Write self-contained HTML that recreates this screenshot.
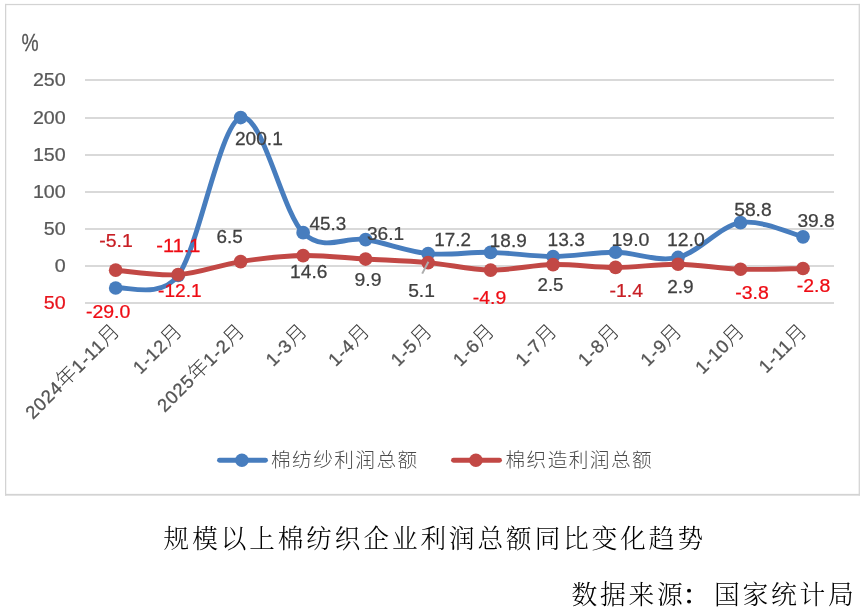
<!DOCTYPE html>
<html lang="zh-CN"><head><meta charset="utf-8"><title>规模以上棉纺织企业利润总额同比变化趋势</title>
<style>
html,body{margin:0;padding:0;background:#fff;}
body{width:865px;height:615px;overflow:hidden;position:relative;}
svg{position:absolute;left:0;top:0;display:block;}
text{white-space:pre;}
.num,.cjk{font-family:"Liberation Sans","Noto Sans CJK SC",sans-serif;}
.fs{font-family:"Liberation Serif","Noto Serif CJK SC",serif;}
</style></head><body>
<svg width="865" height="615" viewBox="0 0 865 615">
<rect x="0" y="0" width="865" height="615" fill="#fff"/>
<rect x="5" y="3.9" width="855" height="1.25" fill="#d3d3d3"/>
<rect x="5" y="3.9" width="1.25" height="491.7" fill="#d3d3d3"/>
<rect x="858.65" y="3.9" width="1.25" height="491.7" fill="#d3d3d3"/>
<rect x="5" y="493.85" width="854.9" height="1.8" fill="#d3d3d3"/>
<rect x="85" y="79" width="749" height="2" fill="#d9d9d9"/>
<rect x="85" y="117" width="749" height="2" fill="#d9d9d9"/>
<rect x="85" y="154" width="749" height="2" fill="#d9d9d9"/>
<rect x="85" y="191" width="749" height="2" fill="#d9d9d9"/>
<rect x="85" y="228" width="749" height="2" fill="#d9d9d9"/>
<rect x="85" y="265" width="749" height="2" fill="#d9d9d9"/>
<rect x="85" y="302" width="749" height="2" fill="#d9d9d9"/>
<text class="num" transform="translate(32.93,85.97) scale(1.0750,1)" font-size="18.30" fill="#595959" stroke="#595959" stroke-width="0.25">250</text>
<text class="num" transform="translate(32.93,123.97) scale(1.0750,1)" font-size="18.30" fill="#595959" stroke="#595959" stroke-width="0.25">200</text>
<text class="num" transform="translate(32.93,160.97) scale(1.0750,1)" font-size="18.30" fill="#595959" stroke="#595959" stroke-width="0.25">150</text>
<text class="num" transform="translate(32.93,197.97) scale(1.0750,1)" font-size="18.30" fill="#595959" stroke="#595959" stroke-width="0.25">100</text>
<text class="num" transform="translate(43.85,234.97) scale(1.0750,1)" font-size="18.30" fill="#595959" stroke="#595959" stroke-width="0.25">50</text>
<text class="num" transform="translate(54.87,271.97) scale(1.0750,1)" font-size="18.30" fill="#595959" stroke="#595959" stroke-width="0.25">0</text>
<text class="num" transform="translate(43.85,308.97) scale(1.0750,1)" font-size="18.30" fill="#e8141c" stroke="#e8141c" stroke-width="0.25">50</text>
<text class="num" transform="translate(21.43,50.98) scale(0.8200,1)" font-size="23.50" fill="#555555" stroke="#555555" stroke-width="0.25">%</text>
<path d="M115.69,287.98 C126.11,285.88 160.47,299.55 178.18,275.40 C199.00,246.99 219.83,124.64 240.66,117.53 C261.49,110.41 282.31,212.36 303.14,232.70 C323.97,253.03 344.80,236.06 365.62,239.54 C386.45,243.03 407.28,251.47 428.11,253.60 C448.94,255.74 469.76,251.85 490.59,252.34 C511.42,252.82 532.25,256.52 553.07,256.50 C573.90,256.49 594.73,252.10 615.56,252.26 C636.39,252.43 657.21,262.41 678.04,257.47 C698.87,252.54 719.70,226.10 740.52,222.65 C761.35,219.21 792.59,234.43 803.01,236.79" fill="none" stroke="#477dbe" stroke-width="4.9" stroke-linecap="round" stroke-linejoin="round"/>
<circle cx="115.69" cy="287.98" r="6.85" fill="#477dbe"/>
<circle cx="178.18" cy="275.40" r="6.85" fill="#477dbe"/>
<circle cx="240.66" cy="117.53" r="6.85" fill="#477dbe"/>
<circle cx="303.14" cy="232.70" r="6.85" fill="#477dbe"/>
<circle cx="365.62" cy="239.54" r="6.85" fill="#477dbe"/>
<circle cx="428.11" cy="253.60" r="6.85" fill="#477dbe"/>
<circle cx="490.59" cy="252.34" r="6.85" fill="#477dbe"/>
<circle cx="553.07" cy="256.50" r="6.85" fill="#477dbe"/>
<circle cx="615.56" cy="252.26" r="6.85" fill="#477dbe"/>
<circle cx="678.04" cy="257.47" r="6.85" fill="#477dbe"/>
<circle cx="740.52" cy="222.65" r="6.85" fill="#477dbe"/>
<circle cx="803.01" cy="236.79" r="6.85" fill="#477dbe"/>
<path d="M115.69,270.19 C126.11,270.94 157.35,276.10 178.18,274.66 C199.00,273.22 219.83,264.75 240.66,261.56 C261.49,258.38 282.31,255.96 303.14,255.54 C323.97,255.12 344.80,257.86 365.62,259.03 C386.45,260.21 407.28,260.77 428.11,262.61 C448.94,264.44 469.76,269.72 490.59,270.05 C511.42,270.37 532.25,264.97 553.07,264.54 C573.90,264.11 594.73,267.49 615.56,267.44 C636.39,267.39 657.21,263.94 678.04,264.24 C698.87,264.54 719.70,268.52 740.52,269.23 C761.35,269.93 792.59,268.61 803.01,268.48" fill="none" stroke="#c24845" stroke-width="4.9" stroke-linecap="round" stroke-linejoin="round"/>
<circle cx="115.69" cy="270.19" r="6.85" fill="#c24845"/>
<circle cx="178.18" cy="274.66" r="6.85" fill="#c24845"/>
<circle cx="240.66" cy="261.56" r="6.85" fill="#c24845"/>
<circle cx="303.14" cy="255.54" r="6.85" fill="#c24845"/>
<circle cx="365.62" cy="259.03" r="6.85" fill="#c24845"/>
<circle cx="428.11" cy="262.61" r="6.85" fill="#c24845"/>
<circle cx="490.59" cy="270.05" r="6.85" fill="#c24845"/>
<circle cx="553.07" cy="264.54" r="6.85" fill="#c24845"/>
<circle cx="615.56" cy="267.44" r="6.85" fill="#c24845"/>
<circle cx="678.04" cy="264.24" r="6.85" fill="#c24845"/>
<circle cx="740.52" cy="269.23" r="6.85" fill="#c24845"/>
<circle cx="803.01" cy="268.48" r="6.85" fill="#c24845"/>
<line x1="428.4" y1="261.8" x2="422.2" y2="273.6" stroke="#adadad" stroke-width="2"/>
<text class="num" transform="translate(85.97,317.82) scale(1.0655,1)" font-size="18.30" fill="#ee0c14" stroke="#ee0c14" stroke-width="0.25">-29.0</text>
<text class="num" transform="translate(158.09,297.40) scale(1.0429,1)" font-size="18.30" fill="#ee0c14" stroke="#ee0c14" stroke-width="0.25">-12.1</text>
<text class="num" transform="translate(234.89,145.22) scale(1.0475,1)" font-size="18.30" fill="#404040" stroke="#404040" stroke-width="0.25">200.1</text>
<text class="num" transform="translate(309.48,230.22) scale(1.0317,1)" font-size="18.30" fill="#404040" stroke="#404040" stroke-width="0.25">45.3</text>
<text class="num" transform="translate(366.99,239.82) scale(1.0428,1)" font-size="18.30" fill="#404040" stroke="#404040" stroke-width="0.25">36.1</text>
<text class="num" transform="translate(434.34,246.00) scale(1.0298,1)" font-size="18.30" fill="#404040" stroke="#404040" stroke-width="0.25">17.2</text>
<text class="num" transform="translate(489.83,247.42) scale(1.0360,1)" font-size="18.30" fill="#404040" stroke="#404040" stroke-width="0.25">18.9</text>
<text class="num" transform="translate(547.51,245.82) scale(1.0480,1)" font-size="18.30" fill="#404040" stroke="#404040" stroke-width="0.25">13.3</text>
<text class="num" transform="translate(611.38,245.82) scale(1.0690,1)" font-size="18.30" fill="#404040" stroke="#404040" stroke-width="0.25">19.0</text>
<text class="num" transform="translate(667.00,246.12) scale(1.0600,1)" font-size="18.30" fill="#404040" stroke="#404040" stroke-width="0.25">12.0</text>
<text class="num" transform="translate(734.18,215.72) scale(1.0519,1)" font-size="18.30" fill="#404040" stroke="#404040" stroke-width="0.25">58.8</text>
<text class="num" transform="translate(797.38,227.42) scale(1.0489,1)" font-size="18.30" fill="#404040" stroke="#404040" stroke-width="0.25">39.8</text>
<text class="num" transform="translate(99.27,246.82) scale(1.0627,1)" font-size="18.30" fill="#c81e24" stroke="#c81e24" stroke-width="0.25">-5.1</text>
<text class="num" transform="translate(156.35,252.20) scale(1.0929,1)" font-size="18.30" fill="#ee0c14" stroke="#ee0c14" stroke-width="0.25">-11.1</text>
<text class="num" transform="translate(216.51,243.02) scale(1.0298,1)" font-size="18.30" fill="#404040" stroke="#404040" stroke-width="0.25">6.5</text>
<text class="num" transform="translate(290.11,277.92) scale(1.0480,1)" font-size="18.30" fill="#404040" stroke="#404040" stroke-width="0.25">14.6</text>
<text class="num" transform="translate(354.48,285.92) scale(1.0591,1)" font-size="18.30" fill="#404040" stroke="#404040" stroke-width="0.25">9.9</text>
<text class="num" transform="translate(408.18,296.52) scale(1.0509,1)" font-size="18.30" fill="#404040" stroke="#404040" stroke-width="0.25">5.1</text>
<text class="num" transform="translate(472.78,303.52) scale(1.0594,1)" font-size="18.30" fill="#ee0c14" stroke="#ee0c14" stroke-width="0.25">-4.9</text>
<text class="num" transform="translate(537.52,290.82) scale(1.0214,1)" font-size="18.30" fill="#404040" stroke="#404040" stroke-width="0.25">2.5</text>
<text class="num" transform="translate(609.47,297.00) scale(1.0631,1)" font-size="18.30" fill="#c81e24" stroke="#c81e24" stroke-width="0.25">-1.4</text>
<text class="num" transform="translate(667.20,292.62) scale(1.0421,1)" font-size="18.30" fill="#404040" stroke="#404040" stroke-width="0.25">2.9</text>
<text class="num" transform="translate(735.27,298.62) scale(1.0628,1)" font-size="18.30" fill="#ee0c14" stroke="#ee0c14" stroke-width="0.25">-3.8</text>
<text class="num" transform="translate(796.77,291.62) scale(1.0628,1)" font-size="18.30" fill="#ee0c14" stroke="#ee0c14" stroke-width="0.25">-2.8</text>
<text class="cjk" transform="translate(120.99,331.90) rotate(-45)" text-anchor="end" fill="#595959"><tspan font-size="18.30" letter-spacing="0.85" fill="#545454" stroke="#545454" stroke-width="0.3">2024</tspan><tspan font-size="20.30" font-weight="300" fill="#404040" letter-spacing="0.6">年</tspan><tspan font-size="18.30" letter-spacing="0.85" fill="#545454" stroke="#545454" stroke-width="0.3">1-11</tspan><tspan font-size="20.30" font-weight="300" fill="#404040" letter-spacing="0.6">月</tspan></text>
<text class="cjk" transform="translate(183.48,331.90) rotate(-45)" text-anchor="end" fill="#595959"><tspan font-size="18.30" letter-spacing="0.85" fill="#545454" stroke="#545454" stroke-width="0.3">1-12</tspan><tspan font-size="20.30" font-weight="300" fill="#404040" letter-spacing="0.6">月</tspan></text>
<text class="cjk" transform="translate(245.96,331.90) rotate(-45)" text-anchor="end" fill="#595959"><tspan font-size="18.30" letter-spacing="0.85" fill="#545454" stroke="#545454" stroke-width="0.3">2025</tspan><tspan font-size="20.30" font-weight="300" fill="#404040" letter-spacing="0.6">年</tspan><tspan font-size="18.30" letter-spacing="0.85" fill="#545454" stroke="#545454" stroke-width="0.3">1-2</tspan><tspan font-size="20.30" font-weight="300" fill="#404040" letter-spacing="0.6">月</tspan></text>
<text class="cjk" transform="translate(308.44,331.90) rotate(-45)" text-anchor="end" fill="#595959"><tspan font-size="18.30" letter-spacing="0.85" fill="#545454" stroke="#545454" stroke-width="0.3">1-3</tspan><tspan font-size="20.30" font-weight="300" fill="#404040" letter-spacing="0.6">月</tspan></text>
<text class="cjk" transform="translate(370.92,331.90) rotate(-45)" text-anchor="end" fill="#595959"><tspan font-size="18.30" letter-spacing="0.85" fill="#545454" stroke="#545454" stroke-width="0.3">1-4</tspan><tspan font-size="20.30" font-weight="300" fill="#404040" letter-spacing="0.6">月</tspan></text>
<text class="cjk" transform="translate(433.41,331.90) rotate(-45)" text-anchor="end" fill="#595959"><tspan font-size="18.30" letter-spacing="0.85" fill="#545454" stroke="#545454" stroke-width="0.3">1-5</tspan><tspan font-size="20.30" font-weight="300" fill="#404040" letter-spacing="0.6">月</tspan></text>
<text class="cjk" transform="translate(495.89,331.90) rotate(-45)" text-anchor="end" fill="#595959"><tspan font-size="18.30" letter-spacing="0.85" fill="#545454" stroke="#545454" stroke-width="0.3">1-6</tspan><tspan font-size="20.30" font-weight="300" fill="#404040" letter-spacing="0.6">月</tspan></text>
<text class="cjk" transform="translate(558.37,331.90) rotate(-45)" text-anchor="end" fill="#595959"><tspan font-size="18.30" letter-spacing="0.85" fill="#545454" stroke="#545454" stroke-width="0.3">1-7</tspan><tspan font-size="20.30" font-weight="300" fill="#404040" letter-spacing="0.6">月</tspan></text>
<text class="cjk" transform="translate(620.86,331.90) rotate(-45)" text-anchor="end" fill="#595959"><tspan font-size="18.30" letter-spacing="0.85" fill="#545454" stroke="#545454" stroke-width="0.3">1-8</tspan><tspan font-size="20.30" font-weight="300" fill="#404040" letter-spacing="0.6">月</tspan></text>
<text class="cjk" transform="translate(683.34,331.90) rotate(-45)" text-anchor="end" fill="#595959"><tspan font-size="18.30" letter-spacing="0.85" fill="#545454" stroke="#545454" stroke-width="0.3">1-9</tspan><tspan font-size="20.30" font-weight="300" fill="#404040" letter-spacing="0.6">月</tspan></text>
<text class="cjk" transform="translate(745.82,331.90) rotate(-45)" text-anchor="end" fill="#595959"><tspan font-size="18.30" letter-spacing="0.85" fill="#545454" stroke="#545454" stroke-width="0.3">1-10</tspan><tspan font-size="20.30" font-weight="300" fill="#404040" letter-spacing="0.6">月</tspan></text>
<text class="cjk" transform="translate(808.31,331.90) rotate(-45)" text-anchor="end" fill="#595959"><tspan font-size="18.30" letter-spacing="0.85" fill="#545454" stroke="#545454" stroke-width="0.3">1-11</tspan><tspan font-size="20.30" font-weight="300" fill="#404040" letter-spacing="0.6">月</tspan></text>
<line x1="219.5" y1="460.3" x2="265.5" y2="460.3" stroke="#477dbe" stroke-width="4.9" stroke-linecap="round"/>
<circle cx="241.9" cy="460.3" r="6.8" fill="#477dbe"/>
<text class="cjk" x="271.0" y="466.9" font-size="19.7" letter-spacing="1.4" font-weight="300" fill="#4a4a4a">棉纺纱利润总额</text>
<line x1="453.5" y1="460.3" x2="499.5" y2="460.3" stroke="#c24845" stroke-width="4.9" stroke-linecap="round"/>
<circle cx="475.9" cy="460.3" r="6.8" fill="#c24845"/>
<text class="cjk" x="505.5" y="466.9" font-size="19.7" letter-spacing="1.4" font-weight="300" fill="#4a4a4a">棉织造利润总额</text>
<text class="fs" x="163.6" y="548.2" font-size="25.6" font-weight="300" letter-spacing="2.95" fill="#000">规模以上棉纺织企业利润总额同比变化趋势</text>
<text class="fs" x="571.6" y="603.7" font-size="25.8" font-weight="300" letter-spacing="2.7" fill="#000">数据来源<tspan dx="-2.4" stroke="#000" stroke-width="1.1" stroke-linejoin="round">：</tspan><tspan dx="2.4">国家统计局</tspan></text>
</svg>
</body></html>
